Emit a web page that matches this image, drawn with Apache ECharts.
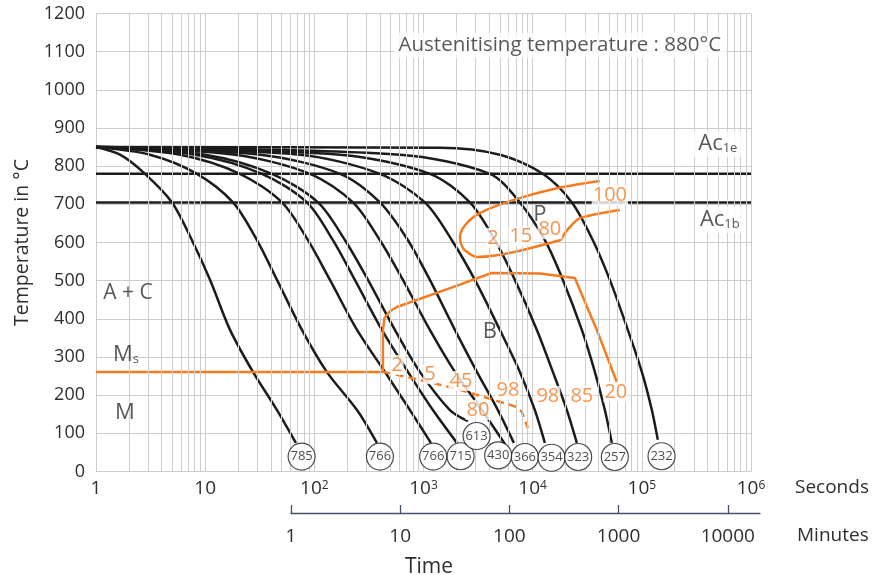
<!DOCTYPE html>
<html>
<head>
<meta charset="utf-8">
<script src="https://cdn.jsdelivr.net/npm/echarts@6/dist/echarts.min.js"></script>
<style>
  html, body { margin: 0; padding: 0; background: #fff; }
  #chart { width: 872px; height: 575px; }
</style>
</head>
<body>
<div id="chart"></div>
<script>
// cooling curves, [seconds, °C], named by the hardness at their end
const c785 = [[1, 850], [1.66, 830], [2.81, 780], [4.97, 705], [7.57, 606], [11.1, 502], [16.9, 371], [27.4, 261], [45.5, 161], [67.8, 75]]
const c766a = [[1, 850], [3.12, 830], [8.41, 780], [18, 705], [29.8, 606], [45.5, 502], [77, 371], [130, 261], [246, 161], [374, 75]]
const c766b = [[1, 850], [5.88, 830], [20.8, 780], [50.5, 705], [87.4, 606], [139, 502], [246, 371], [443, 261], [751, 161], [1169, 75]]
const c715 = [[1, 850], [8.07, 830], [33.1, 780], [85.5, 705], [148, 606], [235, 502], [416, 371], [720, 261], [1219, 161], [2023, 75]]
const c613 = [[1, 850], [9.96, 830], [40.9, 780], [108, 705], [191, 606], [310, 502], [547, 371], [927, 261], [1745, 161], [2550, 132]]
const c430 = [[1, 850], [18.8, 830], [91.1, 780], [226, 705], [399, 606], [648, 502], [1144, 371], [1939, 261], [3426, 161], [5565, 72]]
const c366 = [[1, 850], [31.8, 830], [172, 780], [399, 705], [720, 606], [1144, 502], [1939, 371], [3083, 261], [4801, 161], [6726, 75]]
const c354 = [[1, 850], [73.8, 830], [399, 780], [1030, 705], [1820, 606], [2956, 502], [5007, 371], [7637, 261], [10474, 161], [12935, 75]]
const c323 = [[1, 850], [172, 830], [1144, 780], [2660, 705], [4507, 606], [6871, 502], [10926, 371], [15310, 261], [20570, 161], [25400, 75]]
const c257 = [[1, 850], [608, 830], [4057, 780], [7637, 705], [12935, 606], [18910, 502], [28220, 371], [37120, 261], [45840, 161], [53130, 75]]
const c232 = [[1, 850], [1413, 848], [5007, 830], [12397, 780], [22860, 705], [35590, 606], [50930, 502], [74440, 371], [100000, 261], [123500, 161], [140100, 83]]

// Ac1e / Ac1b
const ac1e = [[1, 780], [1e6, 780]]
const ac1b = [[1, 705], [1e6, 705]]

// orange transformation lines
const msBainite = [[1, 261], [425, 261], [425, 371], [439, 402], [493, 420], [571, 431], [1859, 483], [4200, 520], [11640, 519], [24340, 507], [38710, 371], [59030, 234]]
const bainiteEnd = [[425, 261], [927, 240], [1859, 219], [3807, 193], [7169, 169], [7963, 156], [9038, 114]]
const pearlite = [[41250, 761], [16660, 742], [6588, 711], [3285, 677], [2445, 648], [2154, 614], [2296, 585], [2660, 570], [3083, 562], [17750, 606], [19720, 625], [22860, 646], [27060, 664], [62880, 685]]

// hardness circles
const hardness = ['785', '766', '766', '715', '613', '430', '366', '354', '323', '257', '232']
const hardnessPos = [[76.5, 39], [399, 39], [1227, 39], [2187, 40], [3064, 93], [4832, 42], [8485, 38], [14900, 36], [26100, 38], [56570, 38], [151500, 40]]

// percentages (orange) and phase labels (black): [text, seconds, °C]
const orangeNotes = [
  ['100', 50930, 724], ['2', 4320, 612], ['15', 7798, 617], ['80', 14373, 635],
  ['2', 571, 279], ['5', 1144, 255], ['45', 2200, 237], ['98', 5929, 214],
  ['80', 3149, 161], ['98', 13778, 198], ['85', 28220, 198], ['20', 57800, 208]
]
const boxedNotes = [
  ['{t|Austenitising temperature : 880°C}', 17750, 1117],
  ['{b|Ac}{s|1e}', 496600, 858],
  ['{b|Ac}{s|1b}', 518000, 659]
]
const plainNotes = [
  ['{m|A + C}', 1.96, 468],
  ['{b|M}{s|s}', 1.88, 305],
  ['{b|M}', 1.84, 153],
  ['{b|B}', 4057, 365],
  ['{b|P}', 11640, 672]
]

const minuteTicks = [1, 10, 100, 1000, 10000]

const font = 'Open Sans'
const textColor = '#2e2e2e'
const gridColor = '#cdcdcd'
const orange = '#f47b20'
const ink = '#1c1c1c'

// log minor grid lines 2..9 x 10^k
const minorLines = []
for (let k = 0; k < 6; k++) {
  for (let m = 2; m < 10; m++) minorLines.push({ xAxis: m * Math.pow(10, k) })
}

const richNote = {
  t: { fontFamily: font, fontSize: 20.5, color: textColor },
  b: { fontFamily: font, fontSize: 22, color: textColor },
  m: { fontFamily: font, fontSize: 21, color: textColor },
  s: { fontFamily: font, fontSize: 13, color: textColor, verticalAlign: 'bottom' }
}

const curveSeries = [c785, c766a, c766b, c715, c613, c430, c366, c354, c323, c257, c232].map(d => ({
  type: 'line',
  data: d,
  smooth: 0.3,
  showSymbol: false,
  z: 3,
  lineStyle: { color: ink, width: 2.5 }
}))

const chart = echarts.init(document.getElementById('chart'))

chart.setOption({
  animation: false,
  title: {
    text: 'Time',
    left: 400,
    top: 552,
    textStyle: { fontFamily: font, fontSize: 21, fontWeight: 'normal', color: textColor }
  },
  graphic: [
    { type: 'text', left: 795, top: 478, style: { text: 'Seconds', fontFamily: font, fontSize: 19, fill: textColor } },
    { type: 'text', left: 797, top: 526, style: { text: 'Minutes', fontFamily: font, fontSize: 19, fill: textColor } }
  ],
  grid: [
    { left: 96, right: 121, top: 13.5, bottom: 103.5 },
    { left: 291, right: 112, top: 500, height: 13 }
  ],
  xAxis: [
    {
      type: 'log',
      logBase: 10,
      min: 1,
      max: 1e6,
      gridIndex: 0,
      axisLine: { lineStyle: { color: gridColor } },
      axisTick: { show: false },
      splitLine: { show: true, lineStyle: { color: gridColor } },
      axisLabel: {
        fontFamily: font,
        fontSize: 19,
        color: textColor,
        margin: 8,
        formatter: v => {
          const e = Math.round(Math.log10(v))
          if (e === 0) return '1'
          if (e === 1) return '10'
          return '10{s|' + e + '}'
        },
        rich: { s: { fontFamily: font, fontSize: 12, color: textColor, verticalAlign: 'top' } }
      }
    },
    {
      type: 'log',
      logBase: 10,
      min: 1,
      max: 19720,
      gridIndex: 1,
      axisLine: { lineStyle: { color: '#46506a', width: 1.3 } },
      axisTick: { inside: true, length: 8, customValues: minuteTicks, lineStyle: { color: '#46506a', width: 1.3 } },
      axisLabel: {
        customValues: minuteTicks, formatter: v => String(v),
        fontFamily: font, fontSize: 19, color: textColor, margin: 14
      },
      splitLine: { show: false }
    }
  ],
  yAxis: [
    {
      type: 'value',
      min: 0,
      max: 1200,
      interval: 100,
      gridIndex: 0,
      name: 'Temperature in °C',
      nameLocation: 'middle',
      nameGap: 64,
      nameTextStyle: { fontFamily: font, fontSize: 19.5, color: textColor },
      axisLine: { show: true, lineStyle: { color: gridColor } },
      axisTick: { show: false },
      axisLabel: { formatter: v => String(v), fontFamily: font, fontSize: 18, color: textColor, margin: 11 },
      splitLine: { lineStyle: { color: gridColor } }
    },
    { type: 'value', gridIndex: 1, show: false }
  ],
  series: [
    {
      // minor vertical grid
      type: 'line',
      data: [],
      z: 1,
      markLine: {
        silent: true,
        symbol: ['none', 'none'],
        label: { show: false },
        lineStyle: { color: gridColor, width: 1, type: 'solid' },
        data: minorLines
      }
    },
    { type: 'line', data: ac1e, showSymbol: false, z: 3, lineStyle: { color: ink, width: 2.5 } },
    { type: 'line', data: ac1b, showSymbol: false, z: 3, lineStyle: { color: ink, width: 2.5 } },
    ...curveSeries,
    { type: 'line', data: msBainite, showSymbol: false, z: 4, lineStyle: { color: orange, width: 2.5 } },
    { type: 'line', data: bainiteEnd, showSymbol: false, z: 4, lineStyle: { color: orange, width: 2.5, type: [8, 5] } },
    { type: 'line', data: pearlite, smooth: 0.3, showSymbol: false, z: 4, lineStyle: { color: orange, width: 2.5 } },
    {
      type: 'scatter',
      data: hardnessPos.map((p, i) => [p[0], p[1], hardness[i]]),
      symbol: 'circle',
      symbolSize: 27,
      z: 6,
      itemStyle: { color: '#fff', borderColor: ink, borderWidth: 1.2 },
      label: { show: true, position: 'inside', formatter: p => p.value[2], fontFamily: font, fontSize: 13, color: '#222' }
    },
    {
      type: 'scatter',
      data: orangeNotes.map(n => [n[1], n[2], n[0]]),
      symbolSize: 0,
      z: 7,
      label: {
        show: true, position: 'inside', formatter: p => p.value[2],
        fontFamily: font, fontSize: 20, color: orange, backgroundColor: '#fff', padding: [0, 1]
      }
    },
    {
      type: 'scatter',
      data: boxedNotes.map(n => [n[1], n[2], n[0]]),
      symbolSize: 0,
      z: 7,
      label: { show: true, position: 'inside', formatter: p => p.value[2], backgroundColor: '#fff', padding: [2, 5], rich: richNote }
    },
    {
      type: 'scatter',
      data: plainNotes.map(n => [n[1], n[2], n[0]]),
      symbolSize: 0,
      z: 7,
      label: { show: true, position: 'inside', formatter: p => p.value[2], rich: richNote }
    }
  ]
})
</script>
</body>
</html>
